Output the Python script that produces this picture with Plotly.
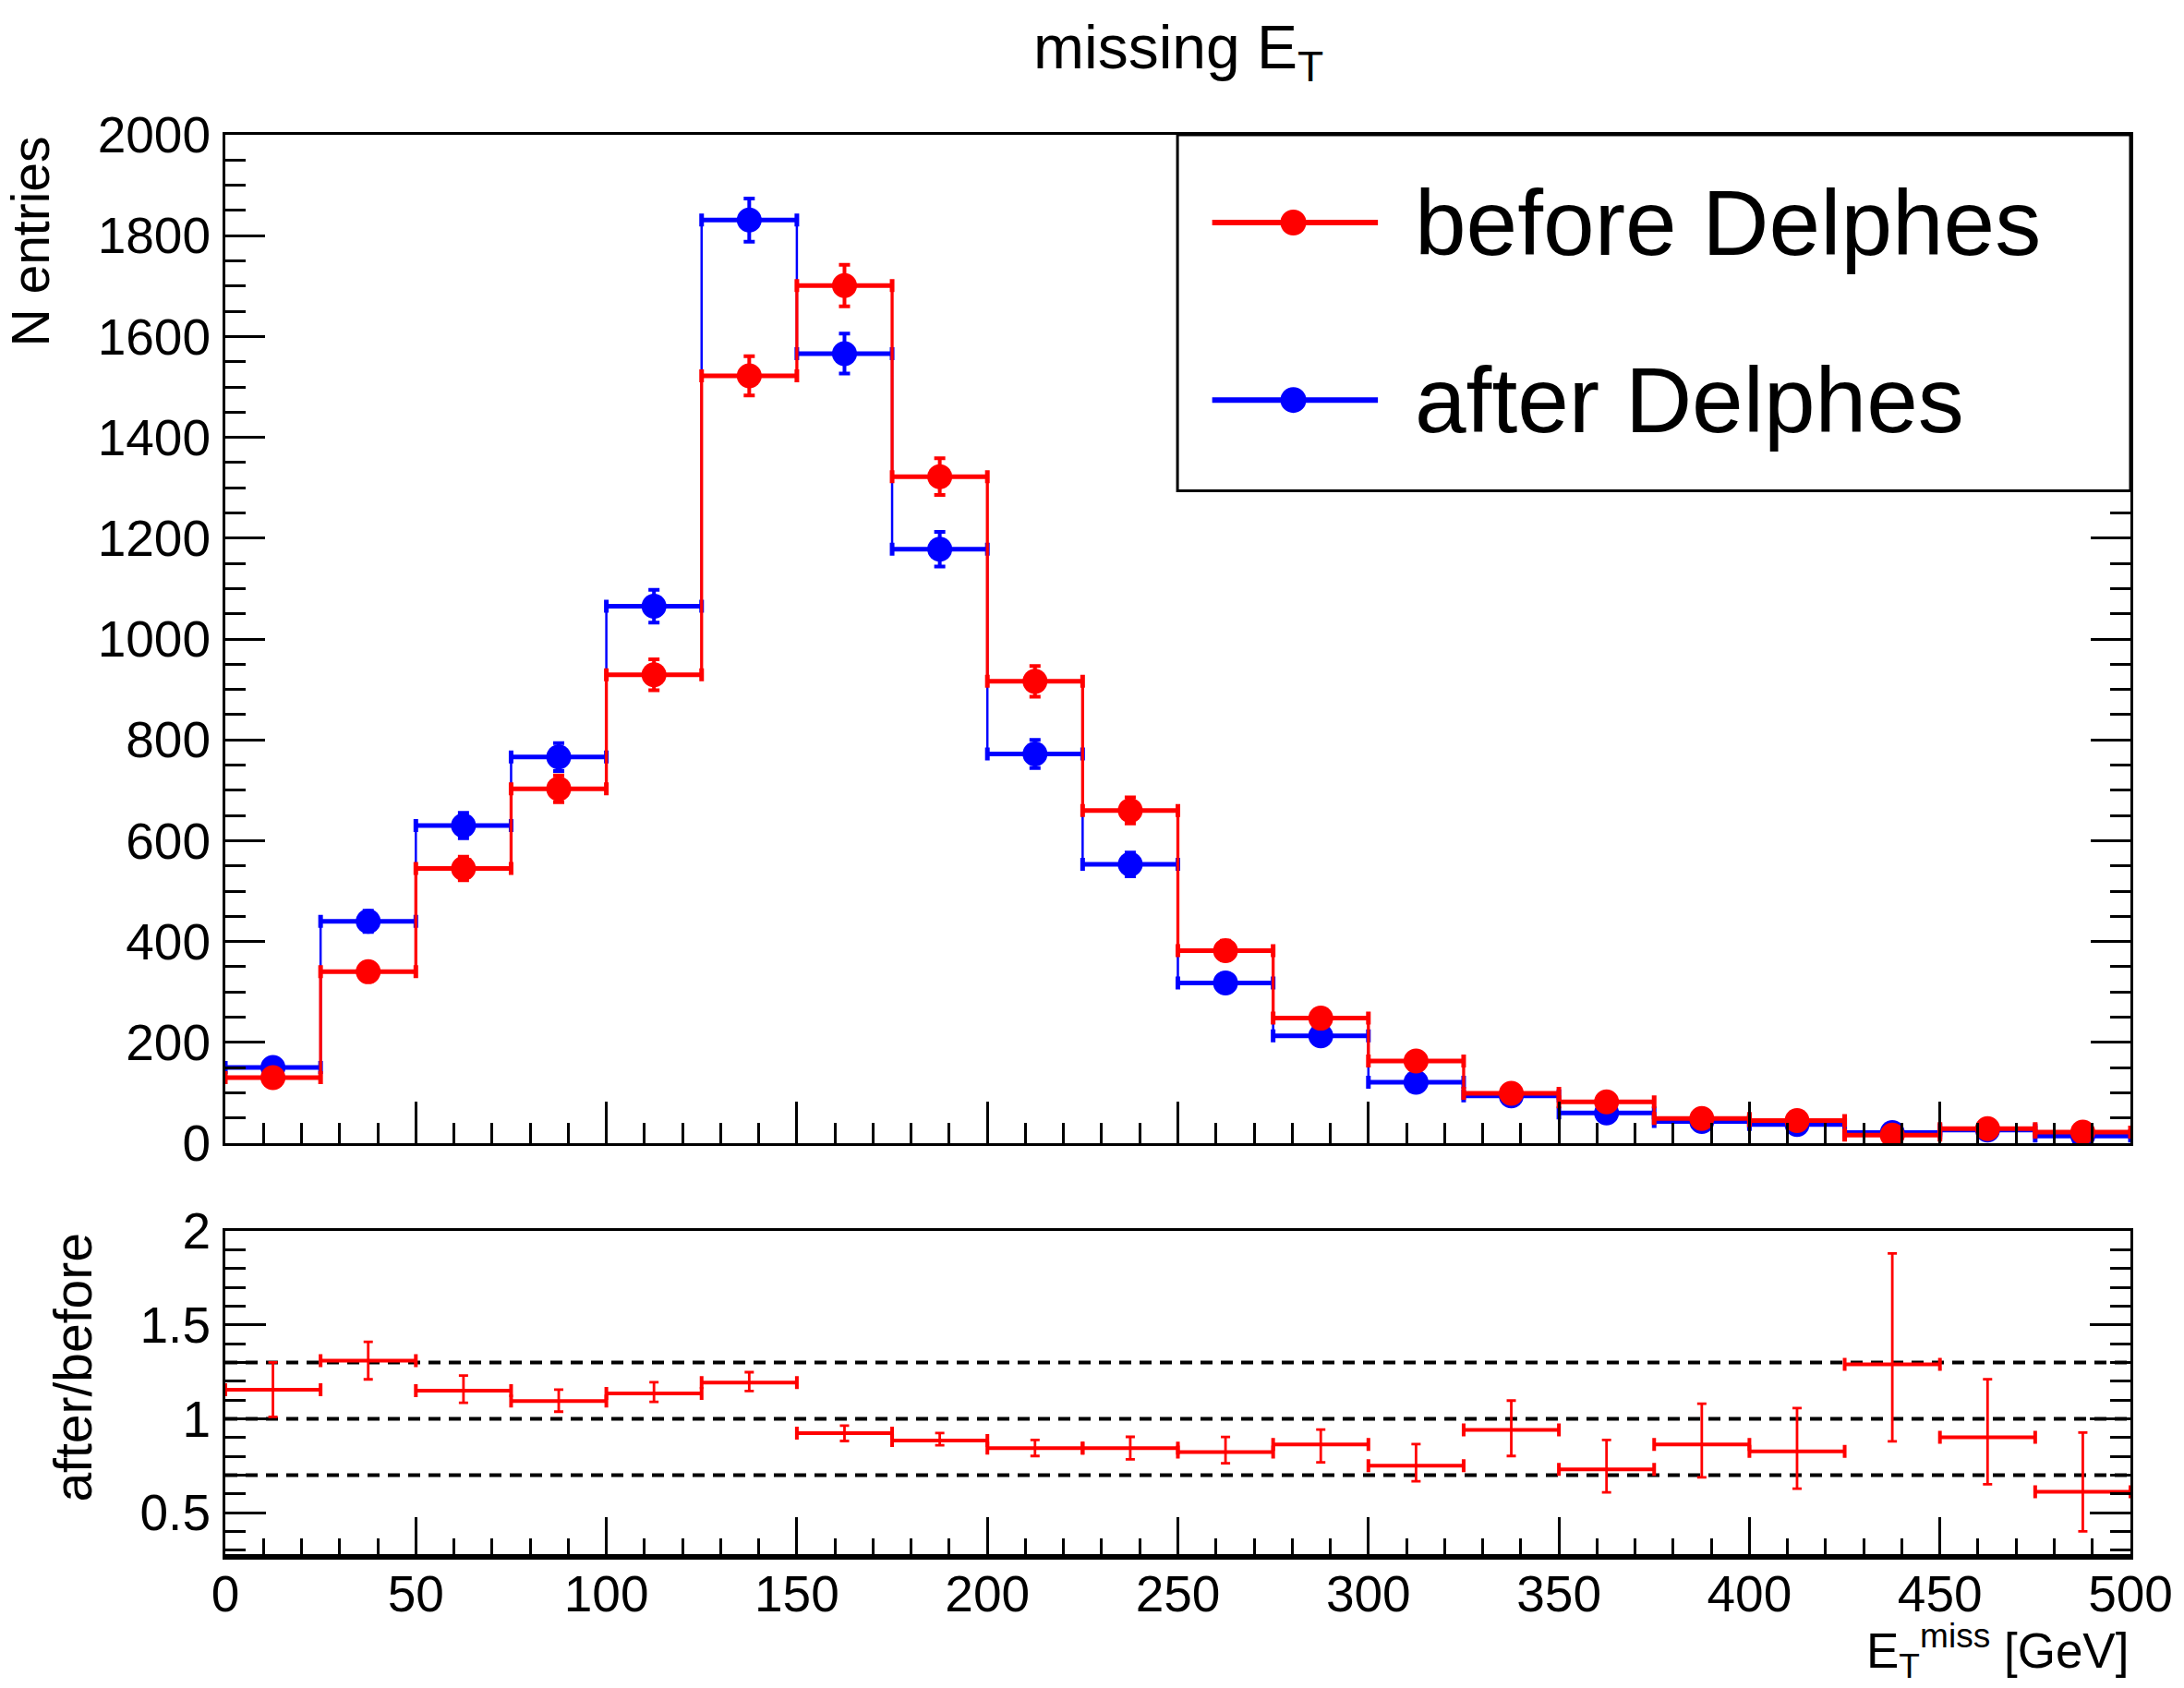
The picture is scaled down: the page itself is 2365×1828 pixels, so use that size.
import numpy as np
import plotly.graph_objects as go

# ---------------- data ----------------
bin_edges = [0, 25, 50, 75, 100, 125, 150, 175, 200, 225, 250, 275, 300, 325, 350, 375, 400, 425, 450, 475, 500]

before_delphes = [130, 340, 545, 703, 929, 1522, 1701, 1322, 916, 660, 382, 248, 163, 99, 82, 49, 45, 16, 29, 22]
after_delphes = [150, 440, 630, 766, 1065, 1831, 1566, 1178, 772, 553, 318, 213, 121, 94, 60, 43, 37, 21, 26, 14]

err_before = [11.4, 18.4, 23.3, 26.5, 30.5, 39.0, 41.2, 36.4, 30.3, 25.7, 19.5, 15.7, 12.8, 9.9, 9.1, 7.0, 6.7, 4.0, 5.4, 4.7]
err_after = [12.2, 21.0, 25.1, 27.7, 32.6, 42.8, 39.6, 34.3, 27.8, 23.5, 17.8, 14.6, 11.0, 9.7, 7.7, 6.6, 6.1, 4.6, 5.1, 3.7]

ratio = [1.155, 1.31, 1.15, 1.095, 1.135, 1.193, 0.924, 0.884, 0.844, 0.844, 0.823, 0.863, 0.75, 0.941, 0.731, 0.863, 0.826, 1.29, 0.901, 0.611]
ratio_err_up = [0.145, 0.10, 0.08, 0.06, 0.06, 0.055, 0.04, 0.04, 0.043, 0.06, 0.08, 0.08, 0.115, 0.156, 0.156, 0.217, 0.231, 0.59, 0.31, 0.316]
ratio_err_dn = [0.145, 0.10, 0.065, 0.057, 0.045, 0.045, 0.042, 0.025, 0.042, 0.06, 0.06, 0.095, 0.083, 0.139, 0.123, 0.175, 0.198, 0.41, 0.25, 0.21]

ref_levels = [0.7, 1.0, 1.3]

# ---------------- derived ----------------
edges = np.array(bin_edges, dtype=float)
centers = 0.5 * (edges[:-1] + edges[1:])
half_w = 0.5 * np.diff(edges)

RED = "#ff0000"
BLUE = "#0000ff"
FONT = "Liberation Sans, Arial, Helvetica, sans-serif"
TICK_FONT = 55

fig = go.Figure()


def add_hist(values, errors, color, step_w):
    fig.add_trace(go.Scatter(
        x=edges, y=list(values) + [values[-1]], mode="lines",
        line=dict(shape="hv", color=color, width=step_w),
        xaxis="x", yaxis="y", hoverinfo="skip"))
    fig.add_trace(go.Scatter(
        x=centers, y=values, mode="markers",
        marker=dict(symbol="circle", size=27, color=color),
        error_x=dict(type="data", array=half_w, color=color, thickness=5, width=7),
        error_y=dict(type="data", array=errors, color=color, thickness=4, width=6),
        xaxis="x", yaxis="y"))


add_hist(after_delphes, err_after, BLUE, 2.5)
add_hist(before_delphes, err_before, RED, 3.3)

fig.add_trace(go.Scatter(
    x=centers, y=ratio, mode="markers",
    marker=dict(size=2, color=RED),
    error_x=dict(type="data", array=half_w, color=RED, thickness=4, width=7),
    error_y=dict(type="data", symmetric=False, array=ratio_err_up, arrayminus=ratio_err_dn,
                 color=RED, thickness=2.8, width=5),
    xaxis="x2", yaxis="y2"))

axis_common = dict(showgrid=False, zeroline=False, showline=True, linecolor="black",
                   linewidth=3, ticks="inside", tickcolor="black", tickwidth=3,
                   ticklabeloverflow="allow",
                   tickfont=dict(family=FONT, size=TICK_FONT, color="black"))

fig.update_layout(
    width=2365, height=1828,
    margin=dict(l=244, r=49, t=146, b=142, pad=0),
    paper_bgcolor="white", plot_bgcolor="white",
    showlegend=False,
    font=dict(family=FONT, color="black"),
    xaxis=dict(domain=[0, 1], anchor="y", range=[0, 500], tick0=0, dtick=50,
               ticklen=45, showticklabels=False, mirror=True,
               minor=dict(dtick=10, ticklen=22, tickwidth=3, ticks="inside", tickcolor="black"),
               **axis_common),
    yaxis=dict(domain=[0.2909, 1], anchor="x", range=[0, 2000], tick0=0, dtick=200,
               ticklen=43, mirror="ticks", ticklabelstandoff=2,
               minor=dict(dtick=50, ticklen=22, tickwidth=3, ticks="inside", tickcolor="black"),
               **axis_common),
    xaxis2=dict(domain=[0, 1], anchor="y2", range=[0, 500], tick0=0, dtick=50,
                ticklen=43, mirror=True, ticklabelstandoff=-10, matches="x",
                minor=dict(dtick=10, ticklen=20, tickwidth=3, ticks="inside", tickcolor="black"),
                **axis_common),
    yaxis2=dict(domain=[0, 0.2292], anchor="x2", range=[0.265, 2.0], tick0=0, dtick=0.5,
                ticklen=44, mirror="ticks", ticklabelstandoff=2,
                minor=dict(dtick=0.1, ticklen=22, tickwidth=3, ticks="inside", tickcolor="black"),
                **axis_common),
)

shapes = []
for lvl in ref_levels:
    shapes.append(dict(type="line", xref="x2", yref="y2", x0=0, x1=500, y0=lvl, y1=lvl,
                       line=dict(color="black", width=4, dash="13px,9px"), layer="below"))
# thick bottom frame line of the ratio pad
shapes.append(dict(type="line", xref="x2 domain", yref="y2 domain", x0=0, x1=1, y0=0, y1=0,
                   line=dict(color="black", width=6), layer="above"))

# legend box
shapes.append(dict(type="rect", xref="x domain", yref="y domain", x0=0.4998, x1=1.0,
                   y0=0.647, y1=1.0, line=dict(color="black", width=3),
                   fillcolor="white", layer="above"))
legend_items = [("before Delphes", RED, 0.913), ("after Delphes", BLUE, 0.737)]
annotations = []
for label, color, ly in legend_items:
    shapes.append(dict(type="line", xref="x domain", yref="y domain", x0=0.518, x1=0.605,
                       y0=ly, y1=ly, line=dict(color=color, width=6), layer="above"))
    shapes.append(dict(type="circle", xref="x domain", yref="y domain",
                       xsizemode="pixel", ysizemode="pixel", xanchor=0.5606, yanchor=ly,
                       x0=-14, x1=14, y0=-14, y1=14, fillcolor=color,
                       line=dict(width=0), layer="above"))
    annotations.append(dict(text=label, xref="x domain", yref="y domain", x=0.6234, y=ly,
                            xanchor="left", yanchor="middle", showarrow=False,
                            font=dict(family=FONT, size=100, color="black")))

annotations += [
    dict(text="missing E<sub>T</sub>", xref="paper", yref="paper", x=0.5, y=1.0584,
         xanchor="center", yanchor="middle", showarrow=False,
         font=dict(family=FONT, size=66, color="black")),
    dict(text="N entries", xref="paper", yref="y domain", x=-0.1025, y=1.0,
         xanchor="center", yanchor="top", textangle=-90, showarrow=False,
         font=dict(family=FONT, size=57, color="black")),
    dict(text="after/before", xref="paper", yref="y2 domain", x=-0.0802, y=1.0,
         xanchor="center", yanchor="top", textangle=-90, showarrow=False,
         font=dict(family=FONT, size=57, color="black")),
    dict(text="E<sub>T</sub><sup>miss</sup> [GeV]", xref="x2 domain", yref="paper",
         x=1.0, y=-0.0656, xanchor="right", yanchor="middle", showarrow=False,
         font=dict(family=FONT, size=53, color="black")),
]

fig.update_layout(shapes=shapes, annotations=annotations)
fig.write_html("out.html", config={"displayModeBar": False},
               post_script="document.body.style.margin='0px';")
